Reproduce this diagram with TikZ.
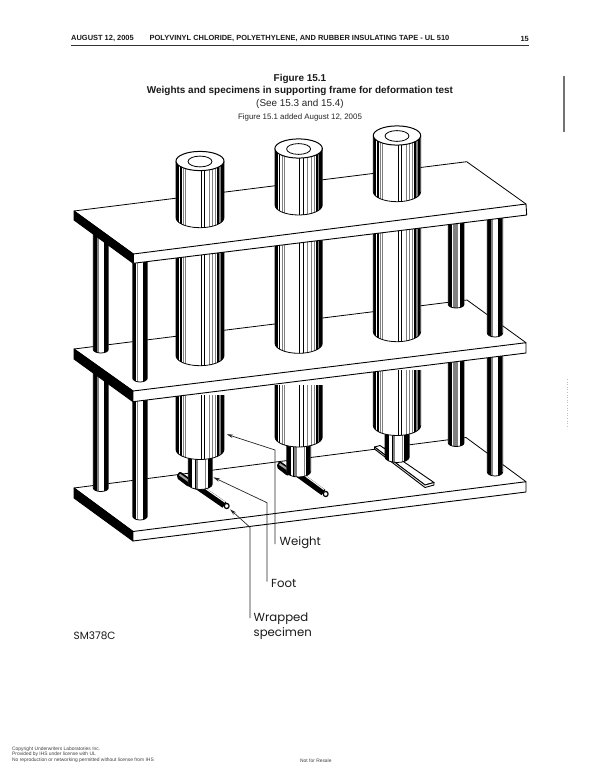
\documentclass[tikz,border=0pt]{standalone}
\usepackage{fontspec}
\setmainfont{Liberation Sans}
\newfontfamily\labelfont{Poppins}
\usetikzlibrary{arrows.meta}
\tikzset{
  edge/.style={draw=black,line width=0.8pt,line join=round},
  platepoly/.style={fill=white,draw=black,line width=0.9pt,line join=round},
  sidepoly/.style={fill=black,draw=black,line width=0.9pt,line join=round},
  leader/.style={draw=black!85,line width=0.7pt,-{Stealth[length=6.5pt,width=3.5pt]}},
  lbl/.style={font=\labelfont\fontsize{11.7}{15}\selectfont,anchor=west,inner sep=0pt,text=black!90},
  hdr/.style={font=\bfseries\fontsize{7.45}{8}\selectfont,anchor=west,inner sep=0pt,text=black!90},
  ttl/.style={font=\bfseries\fontsize{9.95}{12}\selectfont,anchor=center,inner sep=0pt,text=black!90},
  foot/.style={font=\fontsize{4.9}{6}\selectfont,anchor=west,inner sep=0pt,text=black!75},
  tubeouter/.style={draw=black,line width=6.6pt},
  tubeinner/.style={draw=white,line width=1.1pt},
  stubinner/.style={draw=black!35,line width=2pt}
}
\newcommand{\bodypath}[4]{%
  \pgfmathsetmacro{\xc}{(#1+#2)/2}\pgfmathsetmacro{\rx}{(#2-#1)/2}%
  \pgfmathsetmacro{\ka}{#3+0.5523*#4}\pgfmathsetmacro{\kb}{#3+#4}%
  \pgfmathsetmacro{\kl}{\xc-0.5523*\rx}\pgfmathsetmacro{\kr}{\xc+0.5523*\rx}%
}
% \cylbody{xl}{xr}{ytop}{ybot}{depth}{black bands}{grey bands}
\newcommand{\cylbody}[7]{%
  \bodypath{#1}{#2}{#4}{#5}%
  \fill[white] (#1,#3) -- (#1,#4) .. controls (#1,\ka) and (\kl,\kb) .. (\xc,\kb) .. controls (\kr,\kb) and (#2,\ka) .. (#2,#4) -- (#2,#3) -- cycle;
  \begin{scope}
    \clip (#1,#3) -- (#1,#4) .. controls (#1,\ka) and (\kl,\kb) .. (\xc,\kb) .. controls (\kr,\kb) and (#2,\ka) .. (#2,#4) -- (#2,#3) -- cycle;
    \pgfmathsetmacro{\w}{#2-#1}
    \pgfmathsetmacro{\yy}{#4+#5+2}
    \foreach \a/\b in {#7}{
      \fill[black!50] ({#1+\a*\w},#3) rectangle ({#1+\b*\w},\yy);
    }
    \foreach \a/\b in {#6}{
      \fill[black] ({#1+\a*\w},#3) rectangle ({#1+\b*\w},\yy);
    }
  \end{scope}
  \draw[edge] (#1,#3) -- (#1,#4) .. controls (#1,\ka) and (\kl,\kb) .. (\xc,\kb) .. controls (\kr,\kb) and (#2,\ka) .. (#2,#4) -- (#2,#3);
}
\newcommand{\weightbody}[5]{\cylbody{#1}{#2}{#3}{#4}{#5}{0/.055,.085/.115,.515/.528,.585/.598,.86/.90,.94/1}{.14/.15,.19/.205,.68/.69,.76/.78,.82/.83,.90/.94}}
\newcommand{\shaftbody}[5]{\cylbody{#1}{#2}{#3}{#4}{#5}{0/.17,.27/.30,.80/1}{.30/.42,.70/.74}}
\newcommand{\rodbody}[5]{\cylbody{#1}{#2}{#3}{#4}{#5}{0/.22,.68/1}{.27/.38}}
\newcommand{\rodbodyb}[5]{\cylbody{#1}{#2}{#3}{#4}{#5}{0/.22,.72/1}{.32/.62}}
\newcommand{\plate}[7]{%
  \fill[white] (#1) -- (#2) -- (#3) -- (#4) -- cycle;
  \draw[sidepoly] (#1) -- (#2) -- (#5) -- (#6) -- cycle;
  \draw[platepoly] (#2) -- (#3) -- (#7) -- (#5) -- cycle;
  \draw[edge] (#1) -- (#4) -- (#3);
  \draw[edge] (#1) -- (#2);
}
\begin{document}
\begin{tikzpicture}[x=1pt,y=-1pt]
\useasboundingbox (0,0) rectangle (600,776);
\fill[white] (0,0) rectangle (600,776);

% running head
\node[hdr] (hdate) at (71,38.8) {AUGUST 12, 2005};
\node[hdr] (htitle) at (149.5,38.8) {POLYVINYL CHLORIDE, POLYETHYLENE, AND RUBBER INSULATING TAPE - UL 510};
\node[hdr,anchor=east] (hpage) at (529,38.8) {15};
\draw[black!80,line width=0.9pt] (71,45.5) -- (529,45.5);

% titles
\node[ttl] (t1) at (300,79) {Figure 15.1};
\node[ttl] (t2) at (300,91) {Weights and specimens in supporting frame for deformation test};
\node[font=\fontsize{9.9}{12}\selectfont,inner sep=0pt,text=black!85] (t3) at (300,103.5) {(See 15.3 and 15.4)};
\node[font=\fontsize{7.9}{9}\selectfont,inner sep=0pt,text=black!85] (t4) at (300,117) {Figure 15.1 added August 12, 2005};

% change bar and scan mark
\fill[black!55] (563,76) rectangle (565.2,132);
\draw[black!25,line width=0.5pt,dash pattern=on 1pt off 1.6pt] (567.5,379) -- (567.5,427);

% ---- bottom plate
\plate{74,488}{133,531.5}{526,481.7}{466,437.5}{133,541}{74,498}{526,492}

% back rods, lower tier
\rodbody{93.3}{108.3}{350}{488}{3.5}
\rodbodyb{448.3}{464}{350}{443}{3.5}

% foot 1
\draw[black,fill=black,line width=0.6pt,rounded corners=2pt] (179.5,471.5) -- (193,481) -- (189,487) -- (176.5,477.5) -- cycle;
\draw[stubinner] (179.5,474.5) -- (190,482);
\draw[tubeouter] (197,486) -- (224.5,505);
\draw[tubeinner] (198,483.4) -- (225,502.2);
\draw[edge,fill=white,line width=1.2pt] (226.7,506) ellipse[x radius=2.4,y radius=2.6];
% foot 2
\draw[black,fill=black,line width=0.6pt,rounded corners=2pt] (279.5,461) -- (292,470) -- (288,476) -- (276.5,467) -- cycle;
\draw[stubinner] (279.5,464) -- (290,471);
\draw[tubeouter] (298,474) -- (323.5,492.5);
\draw[tubeinner] (299,471.4) -- (324,489.6);
\draw[edge,fill=white,line width=1.2pt] (325.7,494) ellipse[x radius=2.4,y radius=2.6];
% foot 3 (flat)
\draw[platepoly] (374.5,447) -- (380,445.5) -- (434,482.5) -- (425,485) -- cycle;
\draw[platepoly] (374.5,447) -- (374.5,449) -- (425,487.5) -- (434,485) -- (434,482.5) -- (425,485) -- cycle;

% shafts
\shaftbody{188.3}{212.3}{450}{484}{5.5}
\shaftbody{286.7}{310.7}{440}{471.5}{5.5}
\shaftbody{385}{409.3}{425}{457}{5.5}

% lower parts of weights
\weightbody{176}{224}{395}{449.5}{10}
\weightbody{275}{322.3}{385}{437}{10}
\weightbody{373.3}{420.7}{370}{425.5}{10}

% front rods, lower tier
\rodbody{132.7}{147.3}{395}{516}{4}
\rodbody{487.3}{502.7}{345}{472}{4}

% ---- middle plate
\plate{74,349}{133,391}{526,342.7}{467,300}{133,401.7}{74,359}{526,353}

% back rods, upper tier
\rodbody{93.3}{108.3}{215}{349.5}{3.5}
\rodbodyb{448.3}{464}{215}{304.5}{3.5}

% weights between plates
\weightbody{176}{224}{240}{355.7}{10}
\weightbody{275}{322.3}{230}{343.3}{10}
\weightbody{373.3}{420.7}{215}{331.7}{10}

% front rods, upper tier
\rodbody{132.7}{147.3}{255}{378}{4}
\rodbody{487.3}{502.7}{205}{333}{4}

% ---- top plate
\plate{74,211}{133.3,254}{526,204}{466.7,161.7}{133.3,263.3}{74,220}{526.7,215}

% tops of weights
\weightbody{176}{224}{161}{217.7}{10}
\draw[edge,fill=white,line width=1pt] (200,161) ellipse[x radius=24,y radius=9.6];
\draw[edge,fill=white] (200,161.5) ellipse[x radius=12,y radius=5.4];
\weightbody{275}{322.3}{148.5}{205}{10}
\draw[edge,fill=white,line width=1pt] (298.6,148.5) ellipse[x radius=23.7,y radius=9.6];
\draw[edge,fill=white] (298.6,149) ellipse[x radius=12,y radius=5.4];
\weightbody{373.3}{420.7}{135.5}{191.7}{10}
\draw[edge,fill=white,line width=1pt] (397,135.5) ellipse[x radius=23.7,y radius=9.6];
\draw[edge,fill=white] (397,136) ellipse[x radius=12,y radius=5.4];

% labels and leaders
\node[lbl] (lweight) at (279.5,543) {Weight};
\node[lbl] (lfoot) at (271,583.5) {Foot};
\node[lbl,align=left] (lwrap) at (253.5,626) {Wrapped\\specimen};
\node[lbl,font=\labelfont\fontsize{10.5}{12}\selectfont] (lsm) at (73.5,635.5) {SM378C};

\coordinate (aw) at (226.7,434.3);
\coordinate (ef) at (213.3,477.3);
\coordinate (es) at (230,509.3);
\coordinate (bw) at (275,450);
\coordinate (bf) at (267,502.7);
\coordinate (bs) at (250,527.3);
\coordinate (cw) at (275,544);
\coordinate (cf) at (267,581.7);
\coordinate (cs) at (250,618);
\draw[leader] (cw) -- (bw) -- (aw);
\draw[leader] (cf) -- (bf) -- (ef);
\draw[leader] (cs) -- (bs) -- (es);

% footer
\node[foot] (f1) at (12,749) {Copyright Underwriters Laboratories Inc.};
\node[foot] (f2) at (12,754.7) {Provided by IHS under license with UL};
\node[foot] (f3) at (12,760.5) {No reproduction or networking permitted without license from IHS};
\node[foot] (f4) at (300,760.5) {Not for Resale};
\end{tikzpicture}
\end{document}
